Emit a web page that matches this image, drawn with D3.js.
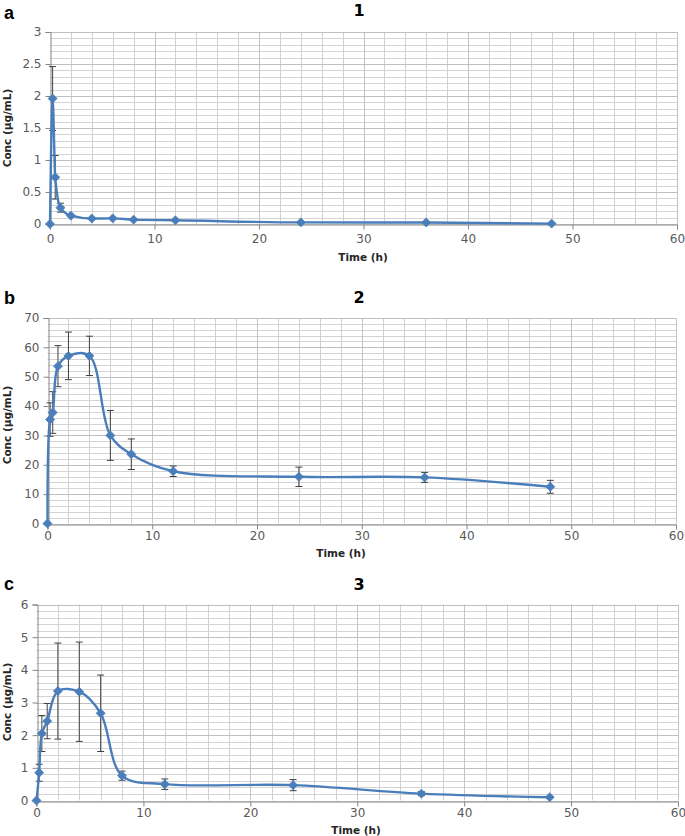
<!DOCTYPE html>
<html>
<head>
<meta charset="utf-8">
<script src="https://cdn.jsdelivr.net/npm/d3@7"></script>
<style>
  html, body { margin: 0; padding: 0; background: #fff; }
  svg { display: block; }
</style>
</head>
<body>
<svg id="chart" width="685" height="836"></svg>
<script>
// ---------- DATA ----------
const times = [0, 0.25, 0.5, 1, 2, 4, 6, 8, 12, 24, 36, 48];

const conc1 = [0, 1.96, 0.73, 0.255, 0.13, 0.085, 0.088, 0.068, 0.058, 0.025, 0.024, 0.006];
const err1  = [0, 0.50, 0.34, 0.07, 0, 0, 0, 0, 0, 0, 0, 0];

const conc2 = [0, 35.4, 37.8, 53.6, 57.1, 57.1, 30.0, 23.6, 17.8, 15.9, 15.7, 12.5];
const err2  = [0, 5.7, 7.1, 7.0, 8.1, 6.7, 8.5, 5.2, 1.8, 3.3, 1.7, 2.2];

const conc3 = [0, 0.85, 2.05, 2.43, 3.35, 3.33, 2.67, 0.76, 0.50, 0.47, 0.21, 0.10];
const err3  = [0, 0.26, 0.55, 0.54, 1.47, 1.52, 1.17, 0.14, 0.16, 0.17, 0.06, 0];

const xTicks = [0, 10, 20, 30, 40, 50, 60];
const yTicks1 = [0, 0.5, 1, 1.5, 2, 2.5, 3];
const yTicks2 = [0, 10, 20, 30, 40, 50, 60, 70];
const yTicks3 = [0, 1, 2, 3, 4, 5, 6];

const panelLetters = ["a", "b", "c"];
const panelTitles = ["1", "2", "3"];
const xTitle = "Time (h)";
const yTitle = "Conc (µg/mL)";

// ---------- LAYOUT ----------
const panels = [
  { conc: conc1, err: err1, yTicks: yTicks1, yMax: 3, minor: 0.1, smooth: false,
    left: 50, right: 677, top: 32, bottom: 224, xPad: 5,
    letterY: 19, titleY: 16, xTitleX: 363, xTitleY: 261, yTitleY: 128 },
  { conc: conc2, err: err2, yTicks: yTicks2, yMax: 70, minor: 2, smooth: true,
    left: 47.5, right: 676, top: 318, bottom: 523.5, xPad: 2,
    letterY: 304, titleY: 303, xTitleX: 341, xTitleY: 557, yTitleY: 425 },
  { conc: conc3, err: err3, yTicks: yTicks3, yMax: 6, minor: 0.2, smooth: true,
    left: 36.5, right: 678, top: 604.5, bottom: 800.5, xPad: 2,
    letterY: 590, titleY: 590, xTitleX: 356, xTitleY: 834, yTitleY: 702 }
];

const svg = d3.select("#chart");
const blue = "#4a7ebb";
const tickFont = "DejaVu Sans, sans-serif";

panels.forEach((p, i) => {
  const x = d3.scaleLinear().domain([0, 60]).range([p.left, p.right]);
  const y = d3.scaleLinear().domain([0, p.yMax]).range([p.bottom, p.top]);
  const g = svg.append("g");

  // minor horizontal grid
  const nMinor = Math.round(p.yMax / p.minor);
  const hMinor = d3.range(0, nMinor + 1).map(k => k * p.minor);
  g.append("g").selectAll("line").data(hMinor).join("line")
    .attr("x1", p.left).attr("x2", p.right)
    .attr("y1", d => Math.round(y(d)) + 0.5).attr("y2", d => Math.round(y(d)) + 0.5)
    .attr("stroke", "#d4d4d4").attr("stroke-width", 1);
  // vertical grid every 2
  const vGrid = d3.range(2, 61, 2);
  g.append("g").selectAll("line").data(vGrid).join("line")
    .attr("x1", d => Math.round(x(d)) + 0.5).attr("x2", d => Math.round(x(d)) + 0.5)
    .attr("y1", p.top).attr("y2", p.bottom)
    .attr("stroke", d => d % 10 === 0 ? "#c4c4c4" : "#d0d0d0").attr("stroke-width", 1);
  // major horizontal grid
  g.append("g").selectAll("line").data(p.yTicks.slice(1)).join("line")
    .attr("x1", p.left).attr("x2", p.right)
    .attr("y1", d => Math.round(y(d)) + 0.5).attr("y2", d => Math.round(y(d)) + 0.5)
    .attr("stroke", "#bfbfbf").attr("stroke-width", 1);

  // axes
  const yAxis = d3.axisLeft(y).tickValues(p.yTicks).tickSize(5).tickPadding(4)
    .tickFormat(d => String(d));
  const ya = g.append("g").attr("transform", `translate(${Math.round(p.left) + 0.5},0)`).call(yAxis);
  ya.select(".domain").attr("stroke", "#868686");
  ya.selectAll(".tick line").attr("stroke", "#868686");
  ya.selectAll(".tick text").attr("fill", "#595959").attr("font-size", 12).attr("font-family", tickFont);

  const xAxis = d3.axisBottom(x).tickValues(xTicks).tickSize(5).tickPadding(p.xPad);
  const xa = g.append("g").attr("transform", `translate(0,${Math.round(p.bottom) + 0.5})`).call(xAxis);
  xa.select(".domain").attr("stroke", "#868686");
  xa.selectAll(".tick line").attr("stroke", "#868686");
  xa.selectAll(".tick text").attr("fill", "#595959").attr("font-size", 12).attr("font-family", tickFont);

  // axis titles
  g.append("text").attr("x", p.xTitleX).attr("y", p.xTitleY)
    .attr("text-anchor", "middle").attr("font-family", tickFont).attr("font-weight", "bold")
    .attr("font-size", 10.5).attr("fill", "#262626").text(xTitle);
  g.append("text").attr("transform", `translate(11,${p.yTitleY}) rotate(-90)`)
    .attr("text-anchor", "middle").attr("font-family", tickFont).attr("font-weight", "bold")
    .attr("font-size", 10.5).attr("fill", "#262626").text(yTitle);

  // panel letter & title
  g.append("text").attr("x", 4).attr("y", p.letterY)
    .attr("font-family", "Liberation Sans, Arial, sans-serif").attr("font-weight", "bold")
    .attr("font-size", 18).attr("fill", "#000").text(panelLetters[i]);
  g.append("text").attr("x", 359).attr("y", p.titleY).attr("text-anchor", "middle")
    .attr("font-family", tickFont).attr("font-weight", "bold")
    .attr("font-size", 16).attr("fill", "#000").text(panelTitles[i]);

  const pts = times.map((t, k) => ({ t, c: p.conc[k], e: p.err[k] }));

  // error bars
  const eb = g.append("g").selectAll("g").data(pts.filter(d => d.e > 0)).join("g")
    .attr("stroke", "#404040").attr("stroke-width", 1);
  eb.append("line").attr("x1", d => x(d.t)).attr("x2", d => x(d.t))
    .attr("y1", d => y(d.c + d.e)).attr("y2", d => y(Math.max(0, d.c - d.e)));
  eb.append("line").attr("x1", d => x(d.t) - 3.5).attr("x2", d => x(d.t) + 3.5)
    .attr("y1", d => y(d.c + d.e)).attr("y2", d => y(d.c + d.e));
  eb.append("line").attr("x1", d => x(d.t) - 3.5).attr("x2", d => x(d.t) + 3.5)
    .attr("y1", d => y(Math.max(0, d.c - d.e))).attr("y2", d => y(Math.max(0, d.c - d.e)));

  // line
  const line = d3.line().x(d => x(d.t)).y(d => y(d.c))
    .curve(p.smooth ? d3.curveCatmullRom.alpha(0.5) : d3.curveMonotoneX);
  g.append("path").datum(pts).attr("d", line).attr("fill", "none")
    .attr("stroke", blue).attr("stroke-width", 2.4);

  // diamond markers
  g.append("g").selectAll("path").data(pts).join("path")
    .attr("d", d3.symbol().type(d3.symbolSquare).size(40))
    .attr("transform", d => `translate(${x(d.t)},${y(d.c)}) rotate(45)`)
    .attr("fill", blue).attr("stroke", blue).attr("stroke-width", 0.8);
});
</script>
</body>
</html>
